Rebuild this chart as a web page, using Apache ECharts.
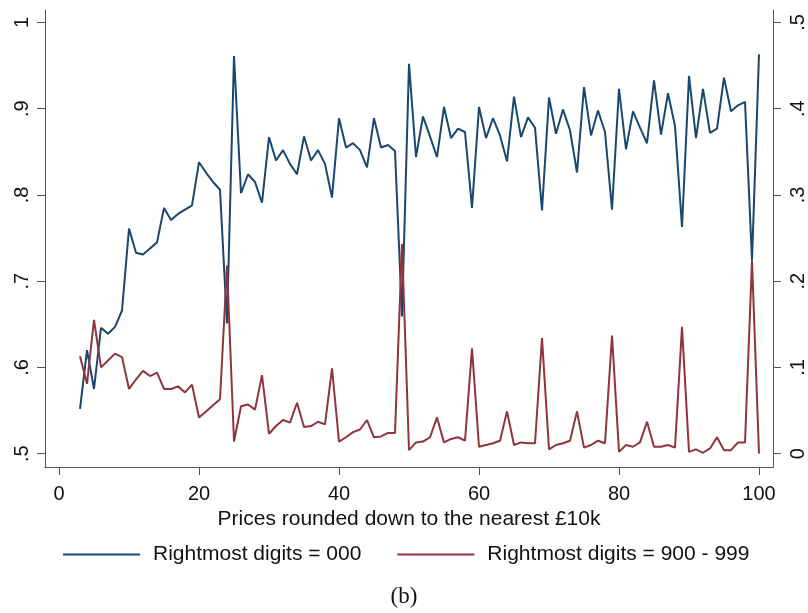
<!DOCTYPE html>
<html>
<head>
<meta charset="utf-8">
<script src="https://cdn.jsdelivr.net/npm/echarts@6/dist/echarts.min.js"></script>
<style>
html,body{margin:0;padding:0;background:#fff;}
#chart{width:808px;height:613px;}
</style>
</head>
<body>
<div id="chart"></div>
<script>
// Prices rounded down to the nearest £10k
const prices = [3,4,5,6,7,8,9,10,11,12,13,14,15,16,17,18,19,20,21,22,23,24,25,26,27,28,29,30,
  31,32,33,34,35,36,37,38,39,40,41,42,43,44,45,46,47,48,49,50,51,52,53,54,55,56,57,58,59,60,
  61,62,63,64,65,66,67,68,69,70,71,72,73,74,75,76,77,78,79,80,81,82,83,84,85,86,87,88,89,90,
  91,92,93,94,95,96,97,98,99,100];

// Rightmost digits = 000 (left axis)
const digits000 = [0.552,0.620,0.575,0.646,0.639,0.647,0.666,0.761,0.733,0.731,0.738,0.745,0.785,0.771,0.778,0.783,0.788,0.838,
  0.826,0.815,0.806,0.651,0.961,0.802,0.824,0.815,0.791,0.867,0.840,0.852,0.836,0.824,0.868,0.840,0.852,0.836,0.797,0.889,
  0.855,0.860,0.852,0.832,0.889,0.855,0.858,0.851,0.659,0.952,0.844,0.891,0.868,0.844,0.902,0.866,0.877,0.873,0.785,0.902,
  0.866,0.889,0.869,0.839,0.914,0.867,0.890,0.878,0.782,0.913,0.871,0.899,0.875,0.826,0.925,0.869,0.898,0.873,0.783,0.923,
  0.853,0.897,0.878,0.860,0.933,0.870,0.918,0.880,0.763,0.938,0.866,0.923,0.872,0.877,0.936,0.897,0.904,0.908,0.724,0.963];

// Rightmost digits = 900 - 999 (right axis)
const digits900 = [0.113,0.081,0.155,0.100,0.108,0.116,0.112,0.075,0.086,0.096,0.090,0.094,0.075,0.075,0.078,0.071,0.080,0.042,
  0.049,0.056,0.063,0.218,0.014,0.055,0.057,0.051,0.091,0.023,0.032,0.039,0.036,0.059,0.031,0.032,0.037,0.034,0.099,0.014,
  0.019,0.025,0.028,0.039,0.019,0.020,0.024,0.024,0.243,0.004,0.013,0.014,0.019,0.042,0.013,0.017,0.019,0.015,0.122,0.008,
  0.010,0.012,0.015,0.049,0.010,0.013,0.012,0.012,0.134,0.005,0.010,0.012,0.015,0.049,0.007,0.010,0.015,0.012,0.137,0.002,
  0.010,0.008,0.013,0.037,0.008,0.008,0.010,0.007,0.147,0.002,0.005,0.001,0.006,0.019,0.004,0.004,0.013,0.013,0.224,0.000];

const xTicks = [0,20,40,60,80,100];
const leftTicks = [0.5,0.6,0.7,0.8,0.9,1];
const rightTicks = [0,0.1,0.2,0.3,0.4,0.5];

const seriesNames = ['Rightmost digits = 000','Rightmost digits = 900 - 999'];
const xTitle = 'Prices rounded down to the nearest £10k';
const panelLabel = '(b)';

const FONT = 'Liberation Sans';
const fmt = v => {
  const r = Math.round(v*10)/10;
  if (r === 0) return '0';
  if (r === 1) return '1';
  return String(r).replace(/^0/, '');
};
const axisLineStyle = {show:true,onZero:false,lineStyle:{color:'#555',width:1}};
const tickStyle = {show:true,inside:false,length:8,lineStyle:{color:'#555',width:1}};

const chart = echarts.init(document.getElementById('chart'), null, {renderer:'canvas'});
chart.setOption({
  backgroundColor:'#ffffff',
  animation:false,
  grid:{left:45,right:31,top:10,bottom:146,containLabel:false},
  title:{
    text:panelLabel, left:'center', top:580,
    textStyle:{fontFamily:'Liberation Serif',fontSize:23,fontWeight:'normal',color:'#111'}
  },
  legend:{
    top:544, left:63, padding:0,
    icon:'rect', itemWidth:77, itemHeight:2, itemGap:36,
    textStyle:{fontFamily:FONT,fontSize:21,color:'#111',padding:[0,0,0,8]},
    data:seriesNames
  },
  xAxis:{
    type:'value', min:-2, max:102,
    name:xTitle, nameLocation:'middle', nameGap:36,
    nameTextStyle:{fontFamily:FONT,fontSize:21,color:'#111'},
    axisLine:axisLineStyle, splitLine:{show:false},
    axisTick:Object.assign({}, tickStyle, {customValues:xTicks}),
    axisLabel:{customValues:xTicks, margin:17, fontFamily:FONT, fontSize:20, color:'#111'}
  },
  yAxis:[
    {
      type:'value', min:0.4845, max:1.0145, position:'left',
      axisLine:axisLineStyle, splitLine:{show:false},
      axisTick:Object.assign({}, tickStyle, {customValues:leftTicks}),
      axisLabel:{customValues:leftTicks, rotate:90, margin:13, fontFamily:FONT, fontSize:20, color:'#111', formatter:fmt}
    },
    {
      type:'value', min:-0.0155, max:0.5145, position:'right',
      axisLine:axisLineStyle, splitLine:{show:false},
      axisTick:Object.assign({}, tickStyle, {customValues:rightTicks}),
      axisLabel:{customValues:rightTicks, rotate:90, margin:15, fontFamily:FONT, fontSize:20, color:'#111', formatter:fmt}
    }
  ],
  series:[
    {
      name:seriesNames[0], type:'line', yAxisIndex:0, symbol:'none',
      lineStyle:{color:'#1a476f',width:2}, itemStyle:{color:'#1a476f'},
      data:prices.map((p,i)=>[p,digits000[i]])
    },
    {
      name:seriesNames[1], type:'line', yAxisIndex:1, symbol:'none',
      lineStyle:{color:'#90353b',width:2}, itemStyle:{color:'#90353b'},
      data:prices.map((p,i)=>[p,digits900[i]])
    }
  ]
});
</script>
</body>
</html>
